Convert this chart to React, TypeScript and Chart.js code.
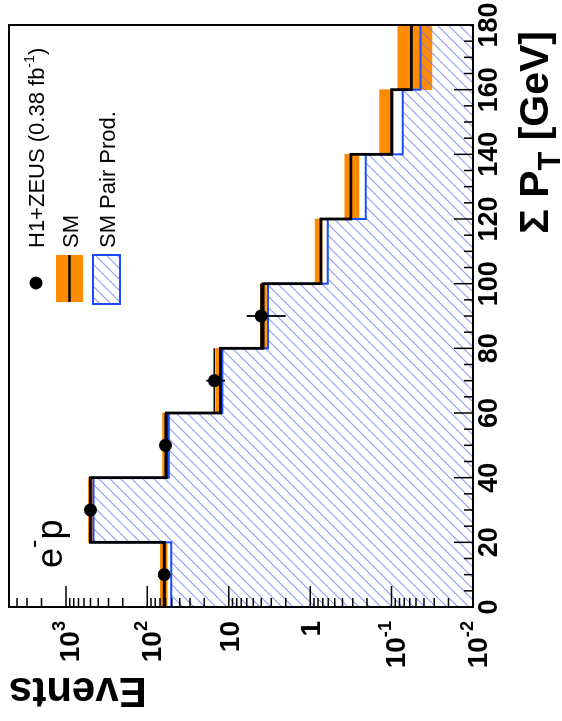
import { useEffect, useRef } from "react";
import { Chart, registerables } from "chart.js";

Chart.register(...registerables);

// ---------------- data ----------------
const binLowEdges = [0, 20, 40, 60, 80, 100, 120, 140, 160];
const binUpperEdge = 180;
const smValues = [62, 500, 58.5, 12.7, 3.78, 0.74, 0.316, 0.1, 0.057];
const smBandLow = [57, 470, 54, 11.8, 3.45, 0.71, 0.252, 0.094, 0.032];
const smBandHigh = [69, 530, 65, 14.2, 4.1, 0.87, 0.375, 0.14, 0.084];
const pairValues = [50.8, 459, 54.5, 12.0, 3.29, 0.606, 0.207, 0.073, 0.044];
const dataBinCenters = [10, 30, 50, 70, 90];
const dataValues = [62, 500, 60, 15, 4];
const dataErrors = [7.9, 22.4, 7.7, 3.9, 2.0];
const xTickLabels = [0, 20, 40, 60, 80, 100, 120, 140, 160, 180];
const yTickExponents = [-2, -1, 0, 1, 2, 3];
const legendDataLabel = ["H1+ZEUS (0.38 fb", "-1", ")"];
const legendSMLabel = "SM";
const legendPairLabel = "SM Pair Prod.";
const xTitle = ["Σ P", "T", " [GeV]"];
const yTitle = "Events";
const processLabel = ["e", "-", "p"];

const X_MIN = 0;
const X_MAX = 180;
const Y_MIN = 0.01;
const Y_MAX = 5000;

const ORANGE = "#ff8c00";
const BLUE = "#1a4dff";
const HATCH = "rgba(105,120,240,0.75)";
const FONT = '"Liberation Sans", Arial, Helvetica, sans-serif';

const W = 721;
const H = 562;

function makeHatch(): CanvasPattern | string {
  const s = 11;
  const c = document.createElement("canvas");
  c.width = s;
  c.height = s;
  const g = c.getContext("2d");
  if (!g) return HATCH;
  g.strokeStyle = HATCH;
  g.lineWidth = 1.1;
  g.beginPath();
  g.moveTo(0, s);
  g.lineTo(s, 0);
  g.moveTo(-2, 2);
  g.lineTo(2, -2);
  g.moveTo(s - 2, s + 2);
  g.lineTo(s + 2, s - 2);
  g.stroke();
  const p = g.createPattern(c, "repeat");
  return p || HATCH;
}

type Seg = { t: string; kind: "n" | "sup" | "sub" };

function drawRich(
  ctx: CanvasRenderingContext2D,
  segs: Seg[],
  x: number,
  baseline: number,
  size: number,
  weight: string,
  align: "left" | "right",
  supScale = 0.65,
  supRaise = 0.5,
  subScale = 0.75,
  subDrop = 0.3
) {
  const fontFor = (s: Seg) => {
    const sz = s.kind === "n" ? size : s.kind === "sup" ? size * supScale : size * subScale;
    return `${weight} ${sz}px ${FONT}`;
  };
  let total = 0;
  const widths = segs.map((s) => {
    ctx.font = fontFor(s);
    const w = ctx.measureText(s.t).width;
    total += w;
    return w;
  });
  let cx = align === "left" ? x : x - total;
  ctx.textAlign = "left";
  ctx.textBaseline = "alphabetic";
  segs.forEach((s, i) => {
    ctx.font = fontFor(s);
    const dy = s.kind === "sup" ? -size * supRaise : s.kind === "sub" ? size * subDrop : 0;
    ctx.fillText(s.t, cx, baseline + dy);
    cx += widths[i];
  });
}

const stepPoints = (vals: number[]) => [
  ...binLowEdges.map((x, i) => ({ x, y: vals[i] })),
  { x: binUpperEdge, y: vals[vals.length - 1] },
];

export default function App() {
  const ref = useRef<HTMLCanvasElement | null>(null);

  useEffect(() => {
    const canvas = ref.current;
    if (!canvas) return;
    const hatch = makeHatch();

    const rootPlugin = {
      id: "rootStyle",
      afterDatasetsDraw(chart: any) {
        const { ctx } = chart;
        const xs = chart.scales.x;
        const ys = chart.scales.y;
        ctx.save();
        ctx.strokeStyle = "#000";
        ctx.lineWidth = 1.8;
        dataBinCenters.forEach((c, i) => {
          const px = xs.getPixelForValue(c);
          const x0 = xs.getPixelForValue(c - 10);
          const x1 = xs.getPixelForValue(c + 10);
          const py = ys.getPixelForValue(dataValues[i]);
          const yLo = ys.getPixelForValue(dataValues[i] - dataErrors[i]);
          const yHi = ys.getPixelForValue(dataValues[i] + dataErrors[i]);
          ctx.beginPath();
          ctx.moveTo(x0, py);
          ctx.lineTo(x1, py);
          ctx.moveTo(px, yLo);
          ctx.lineTo(px, yHi);
          ctx.stroke();
        });
        ctx.restore();
      },
      afterDraw(chart: any) {
        const { ctx, chartArea } = chart;
        const { left, right, top, bottom } = chartArea;
        const xs = chart.scales.x;
        const ys = chart.scales.y;
        ctx.save();
        ctx.fillStyle = "#000";
        ctx.strokeStyle = "#000";

        // x ticks (inside)
        ctx.lineWidth = 1.5;
        ctx.beginPath();
        for (let v = X_MIN; v <= X_MAX; v += 5) {
          const px = xs.getPixelForValue(v);
          const len = v % 20 === 0 ? 19 : 9;
          ctx.moveTo(px, bottom);
          ctx.lineTo(px, bottom - len);
        }
        // y ticks (log, inside)
        for (let e = -2; e <= 3; e++) {
          for (let m = 1; m <= 9; m++) {
            const val = m * Math.pow(10, e);
            if (val < Y_MIN || val > Y_MAX) continue;
            const py = ys.getPixelForValue(val);
            const len = m === 1 ? 21 : 9;
            ctx.moveTo(left, py);
            ctx.lineTo(left + len, py);
          }
        }
        ctx.stroke();

        // frame
        ctx.lineWidth = 2;
        ctx.strokeRect(left, top, right - left, bottom - top);

        // x tick labels
        ctx.font = `bold 27px ${FONT}`;
        ctx.textAlign = "center";
        ctx.textBaseline = "alphabetic";
        xTickLabels.forEach((v) => {
          ctx.fillText(String(v), xs.getPixelForValue(v), bottom + 24);
        });

        // y tick labels
        yTickExponents.forEach((e) => {
          const py = ys.getPixelForValue(Math.pow(10, e));
          if (e === 0 || e === 1) {
            drawRich(ctx, [{ t: e === 0 ? "1" : "10", kind: "n" }], left - 14, py + 10, 28, "bold", "right");
          } else {
            drawRich(
              ctx,
              [
                { t: "10", kind: "n" },
                { t: String(e), kind: "sup" },
              ],
              left - 14,
              py + 13.5,
              28,
              "bold",
              "right",
              0.65,
              0.5
            );
          }
        });

        // x title
        drawRich(
          ctx,
          [
            { t: xTitle[0], kind: "n" },
            { t: xTitle[1], kind: "sub" },
            { t: xTitle[2], kind: "n" },
          ],
          690,
          548,
          41,
          "bold",
          "right",
          0.65,
          0.5,
          0.75,
          0.29
        );

        // y title (rotated, aligned to top of axis)
        ctx.save();
        ctx.translate(43, top);
        ctx.rotate(-Math.PI / 2);
        ctx.font = `bold 42px ${FONT}`;
        ctx.textAlign = "right";
        ctx.textBaseline = "alphabetic";
        ctx.fillText(yTitle, 0, 0);
        ctx.restore();

        // legend
        ctx.beginPath();
        ctx.arc(438, 36, 6.5, 0, Math.PI * 2);
        ctx.fill();
        drawRich(
          ctx,
          [
            { t: legendDataLabel[0], kind: "n" },
            { t: legendDataLabel[1], kind: "sup" },
            { t: legendDataLabel[2], kind: "n" },
          ],
          473,
          44,
          22,
          "normal",
          "left",
          0.65,
          0.45
        );
        ctx.fillStyle = ORANGE;
        ctx.fillRect(419, 56, 47, 27);
        ctx.strokeStyle = "#000";
        ctx.lineWidth = 2.6;
        ctx.beginPath();
        ctx.moveTo(419, 69.5);
        ctx.lineTo(466, 69.5);
        ctx.stroke();
        ctx.fillStyle = "#000";
        drawRich(ctx, [{ t: legendSMLabel, kind: "n" }], 473, 78, 22, "normal", "left");
        ctx.fillStyle = hatch as any;
        ctx.fillRect(417, 93, 49, 27);
        ctx.strokeStyle = BLUE;
        ctx.lineWidth = 2;
        ctx.strokeRect(417, 93, 49, 27);
        ctx.fillStyle = "#000";
        drawRich(ctx, [{ t: legendPairLabel, kind: "n" }], 473, 115, 22, "normal", "left");

        // process label
        drawRich(
          ctx,
          [
            { t: processLabel[0], kind: "n" },
            { t: processLabel[1], kind: "sup" },
            { t: processLabel[2], kind: "n" },
          ],
          153,
          62,
          36,
          "normal",
          "left",
          0.7,
          0.55
        );
        ctx.restore();
      },
    };

    const chart = new Chart(canvas, {
      type: "line",
      data: {
        datasets: [
          {
            type: "line",
            label: "H1+ZEUS",
            data: dataBinCenters.map((x, i) => ({ x, y: dataValues[i] })),
            showLine: false,
            pointRadius: 6.5,
            pointBackgroundColor: "#000",
            pointBorderColor: "#000",
            pointBorderWidth: 0,
            order: 1,
          },
          {
            type: "line",
            label: "SM",
            data: stepPoints(smValues),
            stepped: true,
            borderColor: "#000",
            borderWidth: 2.8,
            pointRadius: 0,
            fill: false,
            order: 2,
          },
          {
            type: "line",
            label: "SM Pair Prod.",
            data: stepPoints(pairValues),
            stepped: true,
            borderColor: BLUE,
            borderWidth: 2,
            pointRadius: 0,
            fill: "start",
            backgroundColor: hatch as any,
            order: 3,
          },
          {
            type: "bar",
            label: "SM uncertainty",
            data: binLowEdges.map((x, i) => ({ x: x + 10, y: [smBandLow[i], smBandHigh[i]] })) as any,
            backgroundColor: ORANGE,
            borderWidth: 0,
            barPercentage: 1,
            categoryPercentage: 1,
            order: 4,
          } as any,
        ],
      },
      options: {
        animation: false,
        responsive: false,
        events: [],
        layout: { padding: { left: 114, right: 25, top: 9, bottom: 89 } },
        plugins: { legend: { display: false }, tooltip: { enabled: false } },
        scales: {
          x: { type: "linear", min: X_MIN, max: X_MAX, display: false, offset: false },
          y: { type: "logarithmic", min: Y_MIN, max: Y_MAX, display: false },
        },
      },
      plugins: [rootPlugin],
    });
    return () => chart.destroy();
  }, []);

  return (
    <div style={{ position: "fixed", left: 0, top: 0, width: 562, height: 721, overflow: "hidden", background: "#fff" }}>
      <div
        style={{
          position: "absolute",
          left: 0,
          top: 0,
          width: W,
          height: H,
          transformOrigin: "0 0",
          transform: `translate(0px, ${W}px) rotate(-90deg)`,
        }}
      >
        <canvas ref={ref} width={W} height={H} style={{ width: W, height: H, display: "block" }} />
      </div>
    </div>
  );
}
